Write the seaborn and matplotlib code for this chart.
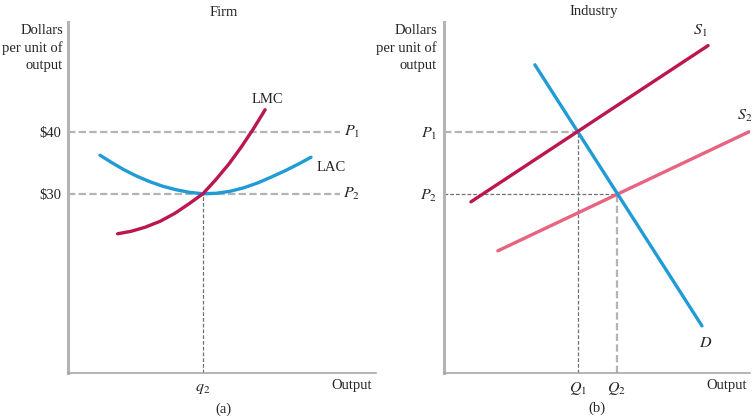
import matplotlib
matplotlib.use("Agg")
import matplotlib.pyplot as plt
import seaborn as sns
import pandas as pd

sns.set_style("white")
plt.rcParams['font.family'] = ['Liberation Serif', 'DejaVu Serif']
plt.rcParams['mathtext.fontset'] = 'stix'

# ---------------- data ----------------
# Firm (panel a)
lmc_q = [1.61, 2.05, 2.50, 2.99, 3.47, 3.93, 4.38, 4.81, 5.23, 5.62, 6.01, 6.40]
lmc_p = [23.55, 23.95, 24.6, 25.56, 26.85, 28.39, 30.0, 32.34, 34.84, 37.5, 40.4, 43.55]
lac_q = [1.04, 1.43, 1.82, 2.24, 2.66, 3.08, 3.51, 3.93, 4.38, 4.81, 5.26, 5.71,
         6.17, 6.62, 7.08, 7.50, 7.89]
lac_p = [36.21, 35.0, 33.87, 32.82, 31.94, 31.21, 30.65, 30.24, 30.0, 30.08, 30.4,
         30.97, 31.77, 32.74, 33.79, 34.84, 35.89]
firm_prices = [40, 30]
firm_price_labels = ["$40", "$30"]
q2 = 4.38

# Industry (panel b)
s1_q = [0.88, 8.63]
s1_p = [28.7, 53.9]
s2_q = [1.76, 9.97]
s2_p = [20.8, 40.0]
d_q = [2.97, 8.43]
d_p = [50.8, 8.7]
P1, P2 = 40, 30
Q1, Q2 = 4.38, 5.65

RED = "#bc1650"
BLUE = "#1f9bd5"
PINK = "#e8637f"
LIGHT = "#b4b4b4"
DARK = "#707070"
FS = 10.5

W, H = 756, 418
fig = plt.figure(figsize=(W / 100, H / 100), dpi=100)

def fx(px):
    return px / W

def fy(py):
    return 1 - py / H

axL = fig.add_axes([fx(68), fy(373), (376 - 68) / W, (373 - 22) / H])
axR = fig.add_axes([fx(444), fy(373), (750 - 444) / W, (373 - 22) / H])

for ax in (axL, axR):
    ax.set_xlim(0, 10)
    ax.set_ylim(1.1, 57.7)
    for s in ("top", "right"):
        ax.spines[s].set_visible(False)
    ax.spines["left"].set_color(LIGHT)
    ax.spines["left"].set_linewidth(2.2)
    ax.spines["bottom"].set_color("#a0a0a0")
    ax.spines["bottom"].set_linewidth(1.1)
    ax.tick_params(length=0, labelsize=FS, pad=5)
    ax.patch.set_alpha(0)

LD = (3.3, 1.5)
DD = (3, 1.6)

# ---------- Firm ----------
ax = axL
for p in firm_prices:
    ax.plot([0, 8.83], [p, p], color=LIGHT, lw=1.6, dashes=LD)
ax.plot([q2, q2], [1.1, 30], color=DARK, lw=0.9, dashes=DD)
sns.lineplot(data=pd.DataFrame({"q": lac_q, "p": lac_p}), x="q", y="p", ax=ax,
             color=BLUE, lw=2.4, sort=False, estimator=None)
sns.lineplot(data=pd.DataFrame({"q": lmc_q, "p": lmc_p}), x="q", y="p", ax=ax,
             color=RED, lw=2.4, sort=False, estimator=None)
ax.set_xlabel("")
ax.set_ylabel("")
ax.set_yticks(firm_prices)
ax.set_yticklabels(firm_price_labels, fontsize=FS)
ax.set_xticks([q2])
ax.set_xticklabels([r"$q_2$"], fontsize=FS + 1)
ax.text(6.49, 45.2, "LMC", fontsize=FS, ha="center", va="center")
ax.text(8.55, 34.2, "LAC", fontsize=FS, ha="center", va="center")
ax.text(9.22, 40, r"$P_1$", fontsize=FS + 1, ha="center", va="center")
ax.text(9.22, 30, r"$P_2$", fontsize=FS + 1, ha="center", va="center")

# ---------- Industry ----------
ax = axR
ax.plot([0, Q1], [P1, P1], color=LIGHT, lw=1.6, dashes=LD)
ax.plot([0, Q2], [P2, P2], color=DARK, lw=0.9, dashes=DD)
ax.plot([Q1, Q1], [1.1, P1], color=DARK, lw=0.9, dashes=DD)
ax.plot([Q2, Q2], [1.1, P2], color=LIGHT, lw=1.6, dashes=LD)
sns.lineplot(x=s2_q, y=s2_p, ax=ax, color=PINK, lw=2.4, sort=False, estimator=None)
sns.lineplot(x=d_q, y=d_p, ax=ax, color=BLUE, lw=2.4, sort=False, estimator=None)
sns.lineplot(x=s1_q, y=s1_p, ax=ax, color=RED, lw=2.4, sort=False, estimator=None)
ax.set_xlabel("")
ax.set_ylabel("")
ax.set_yticks([P1, P2])
ax.set_yticklabels([r"$P_1$", r"$P_2$"], fontsize=FS + 1)
ax.set_xticks([Q1, Q2])
ax.set_xticklabels([r"$Q_1$", r"$Q_2$"], fontsize=FS + 1)
ax.text(8.37, 56.3, r"$S_1$", fontsize=FS + 1, ha="center", va="center")
ax.text(9.84, 42.5, r"$S_2$", fontsize=FS + 1, ha="center", va="center")
ax.text(8.56, 6.0, r"$D$", fontsize=FS + 1, ha="center", va="center")

# ---------- figure texts ----------
fig.text(fx(224), fy(13), "Firm", fontsize=FS, ha="center", va="center")
fig.text(fx(594), fy(12), "Industry", fontsize=FS, ha="center", va="center")
for x0 in (63, 437):
    fig.text(fx(x0), fy(30), "Dollars", fontsize=FS, ha="right", va="center")
    fig.text(fx(x0), fy(48), "per unit of", fontsize=FS, ha="right", va="center")
    fig.text(fx(x0), fy(65), "output", fontsize=FS, ha="right", va="center")
fig.text(fx(352), fy(385), "Output", fontsize=FS, ha="center", va="center")
fig.text(fx(727), fy(385), "Output", fontsize=FS, ha="center", va="center")
fig.text(fx(223), fy(409), "(a)", fontsize=FS, ha="center", va="center")
fig.text(fx(597), fy(408), "(b)", fontsize=FS, ha="center", va="center")

fig.savefig("out.png", dpi=100)
